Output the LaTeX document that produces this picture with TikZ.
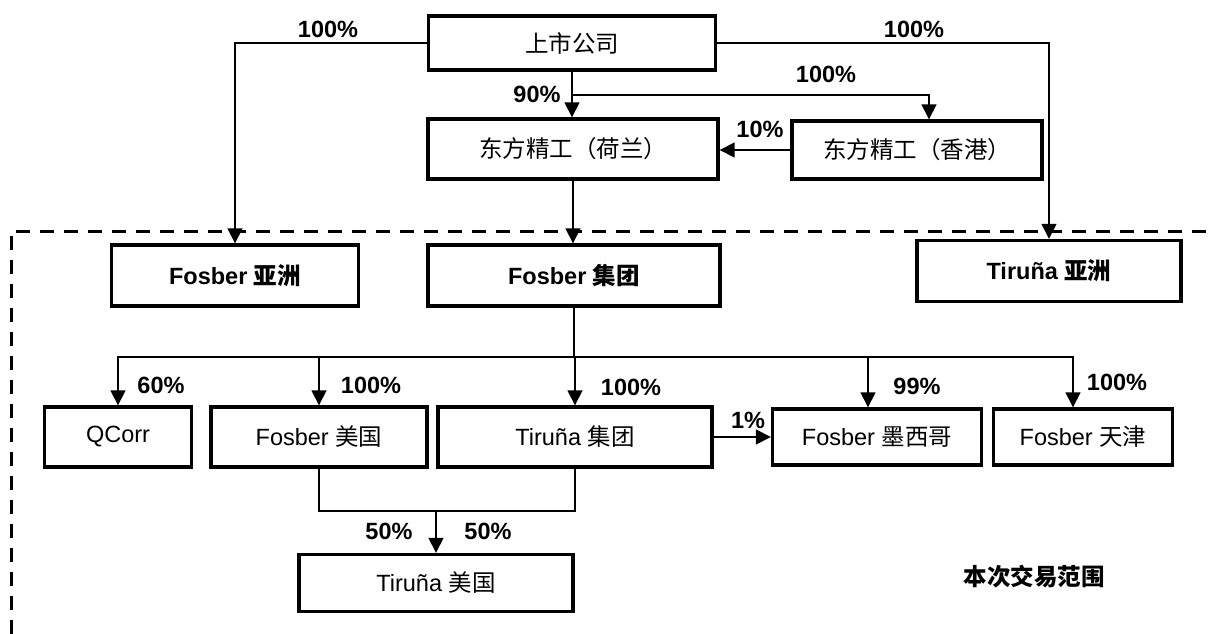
\documentclass[tikz,border=0pt]{standalone}
\usepackage{fontspec}
\setmainfont{Liberation Sans}
\newfontfamily\cjk{Noto Sans CJK SC}
\usetikzlibrary{arrows.meta}

\begin{document}
\begin{tikzpicture}
    [x=1pt,y=-1pt,>={Triangle[length=15pt,width=15pt]},
     company/.style={draw,line width=3.4pt,inner sep=0pt,font=\fontsize{23.5}{26}\selectfont},
     bold company/.style={company,font=\fontsize{23.5}{26}\selectfont\bfseries},
     share/.style={font=\fontsize{23.5}{26}\selectfont\bfseries,inner sep=0pt},
     link/.style={line width=1.6pt}]
    \useasboundingbox (0,0) rectangle (1216,634);

    %Nodes
    \node[company,minimum width=287pt,minimum height=54pt] (Top) at (572,43){\cjk 上市公司};
    \node[company,minimum width=290pt,minimum height=60pt] (Holl) at (573,149){\cjk 东方精工（荷兰）};
    \node[company,minimum width=250pt,minimum height=58pt] (HK) at (917,150){\cjk 东方精工（香港）};
    \node[bold company,minimum width=247pt,minimum height=61pt] (FAsia) at (235,275.5){Fosber {\cjk 亚洲}};
    \node[bold company,minimum width=292pt,minimum height=61pt] (FGroup) at (574,275.5){Fosber {\cjk 集团}};
    \node[bold company,minimum width=264pt,minimum height=61pt] (TAsia) at (1049,271){Tiruña {\cjk 亚洲}};
    \node[company,minimum width=147pt,minimum height=60pt] (QCorr) at (118,437){QCorr};
    \node[company,minimum width=216pt,minimum height=60pt] (FUS) at (319,437){Fosber {\cjk 美国}};
    \node[company,minimum width=274pt,minimum height=60pt] (TGroup) at (575,437){Tiruña {\cjk 集团}};
    \node[company,minimum width=209pt,minimum height=56pt] (FMex) at (877,437){Fosber {\cjk 墨西哥}};
    \node[company,minimum width=179pt,minimum height=56pt] (FTj) at (1083,437){Fosber {\cjk 天津}};
    \node[company,minimum width=274pt,minimum height=57pt] (TUS) at (436,583){Tiruña {\cjk 美国}};

    %Junctions
    \coordinate (J1) at (572,95);
    \coordinate (J2) at (574,357);
    \coordinate (J3) at (436,511);

    %Scope
    \draw[line width=3pt,dash pattern=on 14pt off 10pt] (11,634) -- (11,231) -- (1216,231);
    \node[font=\fontsize{23.5}{26}\selectfont\bfseries\cjk] (Scope) at (1034,577){本次交易范围};

    %Edges
    \draw[link,->] (Top.west) -| (FAsia.north);
    \draw[link,->] (Top.east) -| (TAsia.north);
    \draw[link,->] (Top.south) -- (Top.south |- Holl.north);
    \draw[link,->] (J1) -| ([xshift=12pt]HK.north);
    \draw[link,->] (HK.west) -- (HK.west -| Holl.east);
    \draw[link,->] (Holl.south) -- (Holl.south |- FGroup.north);
    \draw[link] (FGroup.south) -- (J2);
    \draw[link,->] (J2) -| (QCorr.north);
    \draw[link,->] (J2) -| (FUS.north);
    \draw[link,->] (J2) -| (TGroup.north);
    \draw[link,->] (J2) -| ([xshift=-9pt]FMex.north);
    \draw[link,->] (J2) -| ([xshift=-10pt]FTj.north);
    \draw[link,->] (TGroup.east) -- (FMex.west);
    \draw[link] (FUS.south) |- (J3);
    \draw[link] (TGroup.south) |- (J3);
    \draw[link,->] (J3) -- (TUS.north);

    %Labels
    \node[share] (P1) at (328,29){100\%};
    \node[share] (P2) at (914,29){100\%};
    \node[share] (P3) at (537,94){90\%};
    \node[share] (P4) at (826,74){100\%};
    \node[share] (P5) at (760,129){10\%};
    \node[share] (P6) at (161,385){60\%};
    \node[share] (P7) at (371,385){100\%};
    \node[share] (P8) at (631,387){100\%};
    \node[share] (P9) at (917,386){99\%};
    \node[share] (P10) at (1117,382){100\%};
    \node[share] (P11) at (748,420){1\%};
    \node[share] (P12) at (389,531){50\%};
    \node[share] (P13) at (488,531){50\%};

\end{tikzpicture}
\end{document}
